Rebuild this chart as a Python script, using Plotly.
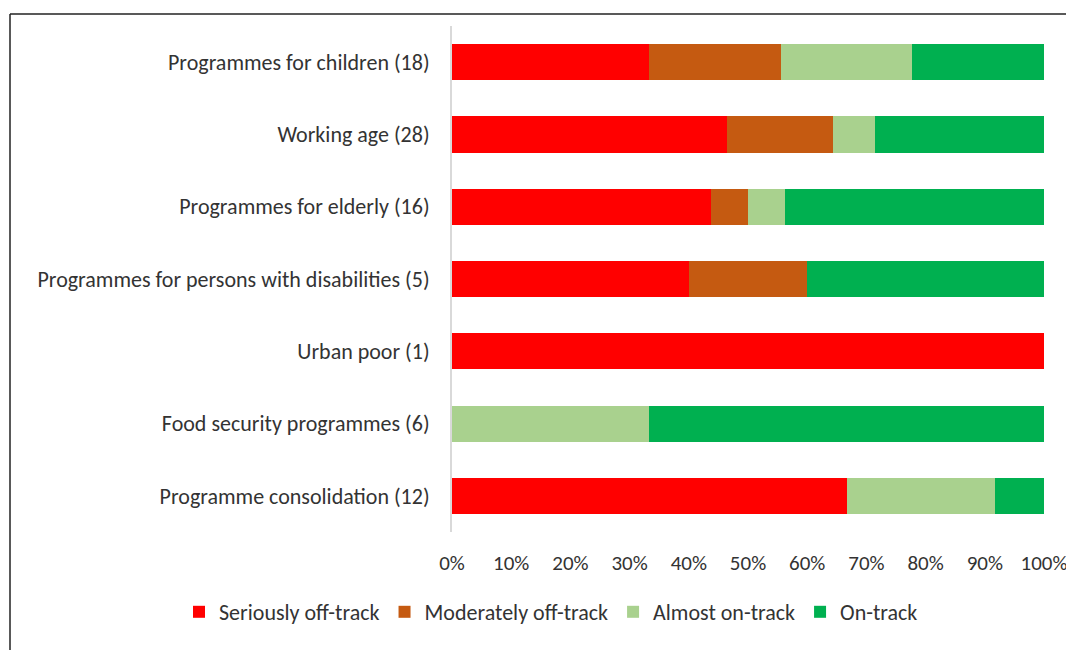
import plotly.graph_objects as go

categories = [
    "Programmes for children (18)",
    "Working age (28)",
    "Programmes for elderly (16)",
    "Programmes for persons with disabilities (5)",
    "Urban poor (1)",
    "Food security programmes (6)",
    "Programme consolidation (12)",
]
totals = [18, 28, 16, 5, 1, 6, 12]
seriously_off = [6, 13, 7, 2, 1, 0, 8]
moderately_off = [4, 5, 1, 1, 0, 0, 0]
almost_on = [4, 2, 1, 0, 0, 2, 3]
on_track = [4, 8, 7, 2, 0, 4, 1]

series_names = ["Seriously off-track", "Moderately off-track", "Almost on-track", "On-track"]
series_values = [seriously_off, moderately_off, almost_on, on_track]
series_colors = ["#FF0000", "#C55A11", "#A9D18E", "#00B050"]

x_ticks = [0, 0.1, 0.2, 0.3, 0.4, 0.5, 0.6, 0.7, 0.8, 0.9, 1.0]
x_tick_labels = ["0%", "10%", "20%", "30%", "40%", "50%", "60%", "70%", "80%", "90%", "100%"]

FONT = "Carlito, Liberation Sans, Arial, sans-serif"
TEXT = "#333333"

fig = go.Figure()
for name, vals, col in zip(series_names, series_values, series_colors):
    fig.add_trace(go.Bar(
        y=categories,
        x=[v / t for v, t in zip(vals, totals)],
        name=name,
        orientation="h",
        marker=dict(color=col, line=dict(width=0)),
    ))

OFF = 8  # page body margin
W, H = 1074 - OFF, 650 - OFF
L = 452 - OFF
R = W - (1044 - OFF)
T = 26 - OFF
B = H - (532 - OFF)
pw = W - L - R
ph = H - T - B

def px_x(p):
    return (p - OFF - L) / pw

def px_y(p):
    return (H - B - (p - OFF)) / ph

fig.update_layout(
    width=W, height=H,
    margin=dict(l=L, r=R, t=T, b=B, autoexpand=False),
    barmode="stack",
    bargap=0.5,
    plot_bgcolor="white",
    paper_bgcolor="white",
    font=dict(family=FONT, size=22, color=TEXT),
    showlegend=True,
    legend=dict(
        orientation="h",
        x=px_x(179), xanchor="left",
        y=px_y(612), yanchor="middle",
        font=dict(family=FONT, size=22, color=TEXT),
        traceorder="normal",
        itemclick=False,
    ),
    xaxis=dict(
        range=[0, 1],
        tickvals=x_ticks,
        ticktext=x_tick_labels,
        showgrid=False,
        zeroline=False,
        showline=False,
        ticks="",
        ticklabelstandoff=16,
        tickfont=dict(family=FONT, size=21, color=TEXT),
    ),
    yaxis=dict(
        autorange="reversed",
        showgrid=False,
        zeroline=False,
        showline=True,
        linecolor="#D9D9D9",
        linewidth=2,
        ticks="",
        ticklabelstandoff=16,
        tickfont=dict(family=FONT, size=22, color=TEXT),
    ),
    shapes=[
        dict(type="line", xref="paper", yref="paper",
             x0=px_x(10), x1=px_x(1074), y0=px_y(14), y1=px_y(14),
             line=dict(color="#222222", width=1.5)),
        dict(type="line", xref="paper", yref="paper",
             x0=px_x(10), x1=px_x(10), y0=px_y(14), y1=px_y(650),
             line=dict(color="#222222", width=1.5)),
    ],
)

fig.write_html("out.html")
